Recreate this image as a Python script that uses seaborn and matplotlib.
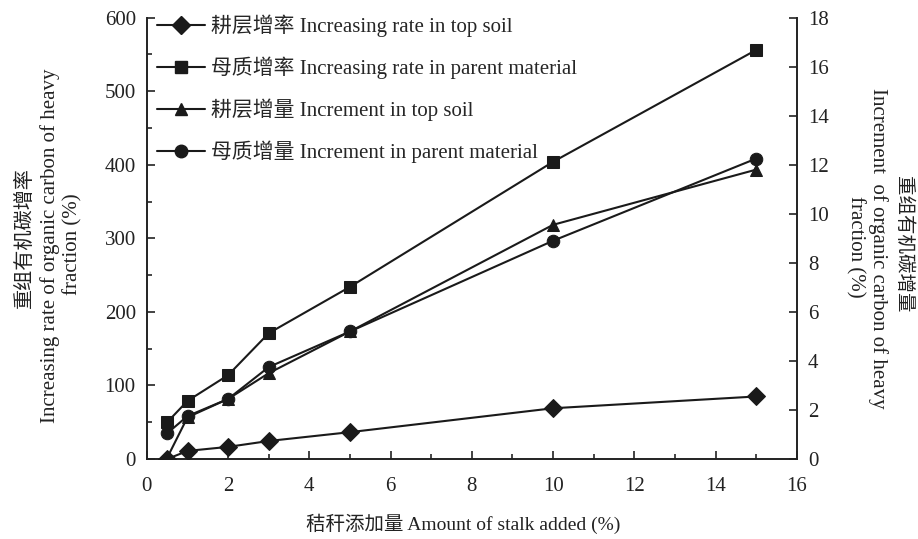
import matplotlib
matplotlib.use("Agg")
import matplotlib.pyplot as plt
import seaborn as sns
import pandas as pd
from matplotlib.ticker import MultipleLocator
from matplotlib.lines import Line2D

sns.set_style("ticks")
plt.rcParams['font.family'] = ['Liberation Serif', 'Noto Sans CJK SC']
plt.rcParams['axes.unicode_minus'] = False

stalk = [0.5, 1, 2, 3, 5, 10, 15]
rate_top = [0, 11, 16.5, 24.5, 36.5, 69, 85]
rate_parent = [50, 79, 114, 171, 234, 404, 556]
inc_top = [0.05, 1.7, 2.45, 3.5, 5.2, 9.55, 11.8]
inc_parent = [1.05, 1.75, 2.45, 3.75, 5.2, 8.9, 12.25]

labels = ["耕层增率 Increasing rate in top soil",
          "母质增率 Increasing rate in parent material",
          "耕层增量 Increment in top soil",
          "母质增量 Increment in parent material"]

df_left = pd.DataFrame({"x": stalk * 2,
                        "y": rate_top + rate_parent,
                        "s": [labels[0]] * 7 + [labels[1]] * 7})
df_right = pd.DataFrame({"x": stalk * 2,
                         "y": inc_top + inc_parent,
                         "s": [labels[2]] * 7 + [labels[3]] * 7})

fig = plt.figure(figsize=(9.18, 5.39), dpi=100)
ax = fig.add_axes([0.160, 0.1484, 0.708, 0.819])
ax2 = ax.twinx()

lw = 1.5
color = "#1a1a1a"
sns.lineplot(data=df_left, x="x", y="y", hue="s", style="s",
             markers={labels[0]: "D", labels[1]: "s"},
             dashes=False, palette={labels[0]: color, labels[1]: color},
             markersize=9, linewidth=lw, markeredgecolor=color,
             ax=ax, legend=False, zorder=3)
sns.lineplot(data=df_right, x="x", y="y", hue="s", style="s",
             markers={labels[2]: "^", labels[3]: "o"},
             dashes=False, palette={labels[2]: color, labels[3]: color},
             markersize=9, linewidth=lw, markeredgecolor=color,
             ax=ax2, legend=False, zorder=3)

ax.set_xlim(0, 16)
ax.set_ylim(0, 600)
ax2.set_ylim(0, 18)
ax.xaxis.set_major_locator(MultipleLocator(2))
ax.xaxis.set_minor_locator(MultipleLocator(1))
ax.yaxis.set_major_locator(MultipleLocator(100))
ax.yaxis.set_minor_locator(MultipleLocator(50))
ax2.yaxis.set_major_locator(MultipleLocator(2))

for a in (ax, ax2):
    a.tick_params(axis='both', which='major', direction='in', length=6, width=1.2,
                  labelsize=15, colors='#222222')
    a.tick_params(axis='both', which='minor', direction='in', length=3.5, width=1.2)
    for sp in a.spines.values():
        sp.set_linewidth(1.4)
        sp.set_color('#222222')
    a.spines['top'].set_visible(False)
ax.spines['right'].set_visible(False)
ax2.spines['right'].set_visible(True)
ax2.spines['left'].set_visible(False)
ax2.spines['bottom'].set_visible(False)
ax.tick_params(axis='x', pad=13)
ax.tick_params(axis='y', pad=8)
ax2.tick_params(axis='y', pad=8)

ax.set_xlabel("")
ax.set_ylabel("")
ax2.set_ylabel("")

W, H = 918, 539
tc = '#222222'


def put(x, y, s, size, rot=0, ha='center'):
    fig.text(x / W, 1 - y / H, s, rotation=rot, ha=ha, va='center',
             fontsize=size, color=tc)


put(463, 524, "秸秆添加量 Amount of stalk added (%)", 14)
put(25, 238, "重组有机碳增率", 14.5, 90)
put(50, 246, "Increasing rate of organic carbon of heavy", 15, 90)
put(73, 244, "fraction (%)", 15, 90)
put(903, 244, "重组有机碳增量", 14, 270)
put(878, 248, "Increment  of organic carbon of heavy", 15, 270)
put(855, 247, "fraction (%)", 15, 270)

handles = [Line2D([], [], color=color, lw=lw, marker=m, markersize=9)
           for m in ["D", "s", "^", "o"]]
ax2.legend(handles, labels, loc='upper left', bbox_to_anchor=(0.0, 1.03),
           frameon=False, fontsize=15, handlelength=2.3, labelspacing=0.93,
           borderpad=0, handletextpad=0.3)

fig.savefig("out.png", dpi=100)
